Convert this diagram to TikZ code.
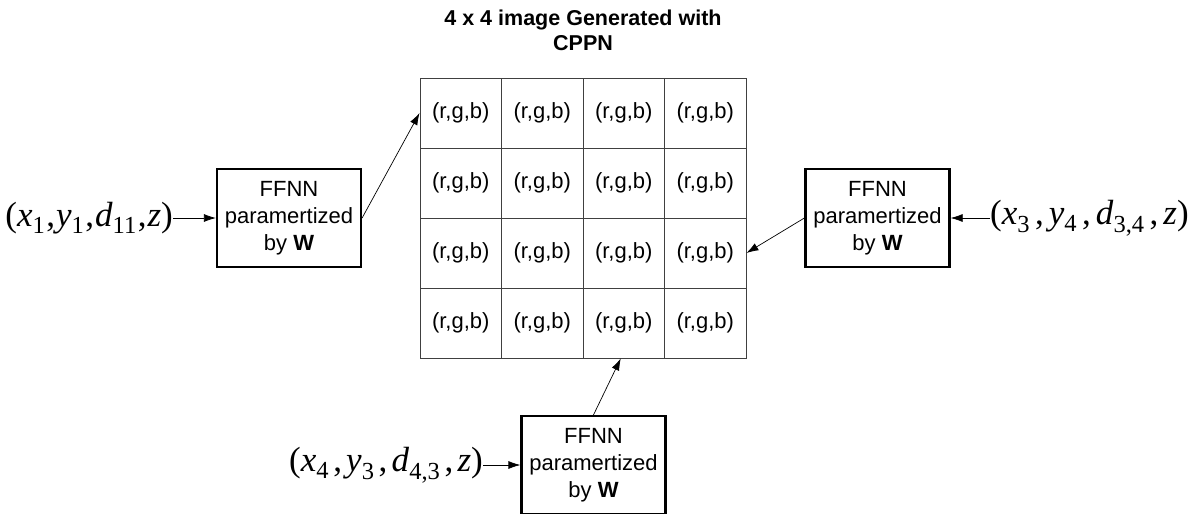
\documentclass[tikz,border=0pt]{standalone}
\usepackage{fontspec}
\setmainfont{Liberation Sans}
\newfontfamily\tms{Liberation Serif}
\usetikzlibrary{arrows.meta}
\begin{document}
\begin{tikzpicture}[x=1pt,y=-1pt,
  ffnn/.style={draw, line width=2.2pt, minimum width=144pt, minimum height=98pt,
    align=center, inner sep=0pt, font=\fontsize{22}{27}\selectfont},
  cell/.style={draw=black!75, line width=0.9pt, minimum width=81.5pt, minimum height=70pt,
    inner sep=0pt, font=\fontsize{22}{26}\selectfont},
  arr/.style={-{Latex[length=12pt,width=8pt]}, line width=0.7pt},
  tup/.style={inner sep=0pt, font=\tms\fontsize{35}{38}\selectfont},
  ttl/.style={align=center, inner sep=0pt, font=\bfseries\fontsize{21.5}{25}\selectfont}
]
\useasboundingbox (0,0) rectangle (1200,514);

\node[ttl] (title) at (583,30) {4 x 4 image Generated with\\CPPN};

\foreach \r in {0,...,3}{
  \foreach \c in {0,...,3}{
    \node[cell] (c\r\c) at ({420+81.5*(\c+0.5)}, {78+70*(\r+0.5)}) {(r,g,b)};
  }
}

\node[ffnn] (L) at (289,218) {FFNN\\paramertized\\by \textbf{W}};
\node[ffnn] (R) at (877.5,218) {FFNN\\paramertized\\by \textbf{W}};
\node[ffnn] (B) at (593.5,465) {FFNN\\paramertized\\by \textbf{W}};

\node[tup, anchor=east] (LT) at (173,218)
  {(\textit{x}\textsubscript{1}\kern1pt,\kern1pt\textit{y}\textsubscript{1}\kern1pt,\kern1pt\textit{d}\textsubscript{11}\kern1pt,\kern1pt\textit{z})};
\node[tup, anchor=west] (RT) at (990,218)
  {(\textit{x}\textsubscript{3}\kern5pt,\kern5pt\textit{y}\textsubscript{4}\kern5pt,\kern5pt\textit{d}\textsubscript{3,4}\kern5pt,\kern5pt\textit{z})};
\node[tup, anchor=east] (BT) at (483,465)
  {(\textit{x}\textsubscript{4}\kern4.2pt,\kern4.2pt\textit{y}\textsubscript{3}\kern4.2pt,\kern4.2pt\textit{d}\textsubscript{4,3}\kern4.2pt,\kern4.2pt\textit{z})};

\draw[arr] (LT.east) -- (L.west);
\draw[arr] (RT.west) -- (R.east);
\draw[arr] (BT.east) -- (B.west);
\draw[arr] (L.east) -- (c00.west);
\draw[arr] (R.west) -- (c23.east);
\draw[arr] (B.north) -- ([xshift=-3pt]c32.south);
\end{tikzpicture}
\end{document}
